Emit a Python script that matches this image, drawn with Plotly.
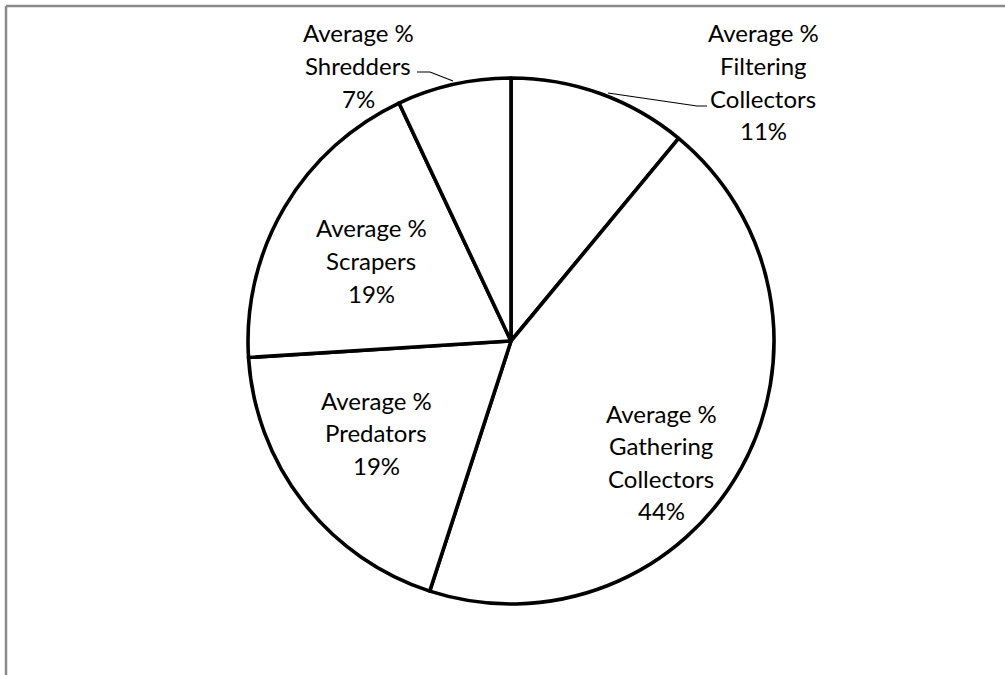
import plotly.graph_objects as go

W, H = 1005, 675

# Functional feeding group composition
groups = ["Filtering Collectors", "Gathering Collectors", "Predators", "Scrapers", "Shredders"]
avg_pct = [11, 44, 19, 19, 7]

# label anchors (pixel centres of each text block's first line)
label_x = [763, 661, 376, 371, 358]
label_y = [33, 413, 400, 228, 33]
LINE_GAP = 32.5
FONT = dict(family="Lato, 'Open Sans', sans-serif", size=24, color="#000000")


def px(x):
    return x / W


def py(y):
    return 1 - y / H


fig = go.Figure(
    go.Pie(
        labels=groups,
        values=avg_pct,
        sort=False,
        direction="clockwise",
        rotation=0,
        textinfo="none",
        hoverinfo="label+percent",
        marker=dict(colors=["#ffffff"] * len(groups), line=dict(color="#000000", width=3.6)),
        domain=dict(x=[px(248), px(774)], y=[py(604), py(78)]),
        showlegend=False,
    )
)

annotations = []
for name, val, x0, y0 in zip(groups, avg_pct, label_x, label_y):
    lines = ["Average %"] + name.split(" ") + [f"{val}%"]
    for i, t in enumerate(lines):
        annotations.append(
            dict(
                x=px(x0), y=py(y0 + i * LINE_GAP), xref="paper", yref="paper",
                text=t, showarrow=False, font=FONT, xanchor="center", yanchor="middle",
            )
        )

shapes = [
    # chart frame (top and left edges)
    dict(type="line", xref="paper", yref="paper", x0=px(6), y0=py(6), x1=1, y1=py(6),
         line=dict(color="#898989", width=2.5)),
    dict(type="line", xref="paper", yref="paper", x0=px(6), y0=py(6), x1=px(6), y1=0,
         line=dict(color="#898989", width=2.5)),
    # leader lines for outside labels
    dict(type="path", xref="paper", yref="paper",
         path=f"M {px(608)} {py(93)} L {px(697)} {py(106)} L {px(707)} {py(106)}",
         line=dict(color="#000000", width=1.2)),
    dict(type="path", xref="paper", yref="paper",
         path=f"M {px(417)} {py(72)} L {px(430)} {py(72)} L {px(453)} {py(81)}",
         line=dict(color="#000000", width=1.2)),
]

fig.update_layout(
    width=W, height=H,
    margin=dict(l=0, r=0, t=0, b=0),
    paper_bgcolor="#ffffff", plot_bgcolor="#ffffff",
    annotations=annotations,
    shapes=shapes,
)

fig.write_html("out.html")
